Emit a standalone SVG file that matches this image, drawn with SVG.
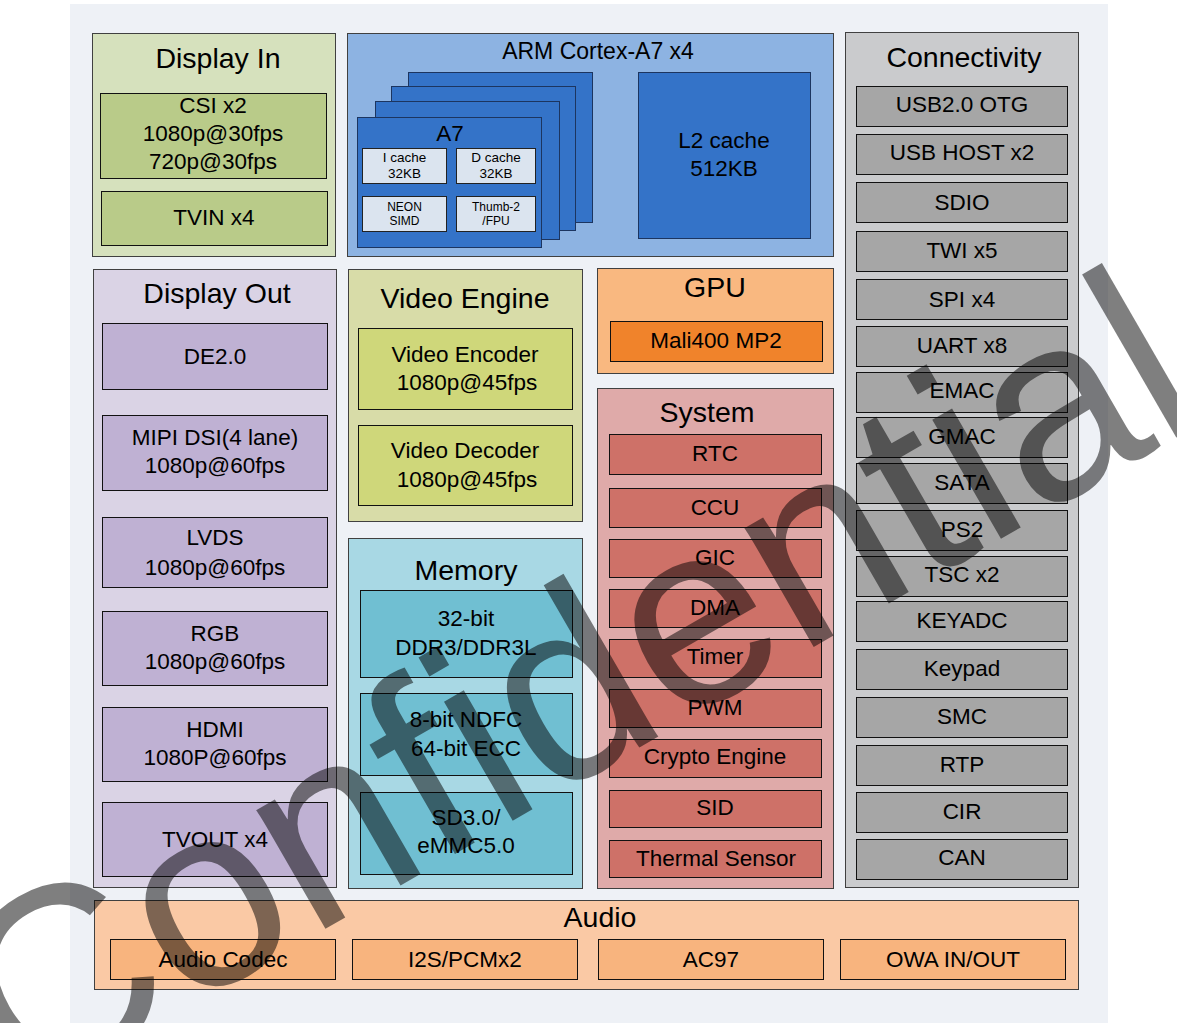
<svg xmlns="http://www.w3.org/2000/svg" width="1177" height="1023" viewBox="0 0 1177 1023">
<style>
text{font-family:"Liberation Sans",Arial,sans-serif;fill:#000;text-anchor:middle}
.t{font-size:28.5px}
.s{font-size:22.5px}
.a{font-size:23px}
.xs{font-size:13.5px}
.xxs{font-size:12px}
.o{stroke:#404040;stroke-width:1}
.i{stroke:#111;stroke-width:1}
.din{fill:#d6e1bd}.dini{fill:#b9cb89}
.arm{fill:#8db3e2}.card{fill:#3473c8;stroke:#1c3560;stroke-width:1}.sub{fill:#dbe4ef;stroke:#222;stroke-width:1}
.dout{fill:#dad3e5}.douti{fill:#bfb1d3}
.ve{fill:#d8dca8}.vei{fill:#cfd77a}
.mem{fill:#a8d8e4}.memi{fill:#70bfd2}
.gpu{fill:#f9b880}.gpui{fill:#f0832b}
.sys{fill:#dfaaa9}.sysi{fill:#ce7168}
.con{fill:#cacbcd}.coni{fill:#a6a6a6}
.aud{fill:#fac9a5}.audi{fill:#f8b47e}
.wm{font-family:"Liberation Sans",Arial,sans-serif;font-size:260px;fill:#000;fill-opacity:0.5;text-anchor:start}
</style>
<rect x="0" y="0" width="1177" height="1023" fill="#ffffff"/>
<rect x="70" y="4" width="1038" height="1019" fill="#eef1f6"/>

<g id="display-in">
<rect class="din o" x="92.5" y="33.5" width="243" height="223"/>
<text class="t" x="218" y="68">Display In</text>
<rect class="dini i" x="100.5" y="93.5" width="226" height="85"/>
<text class="s" x="213" y="113">CSI x2</text>
<text class="s" x="213" y="141">1080p@30fps</text>
<text class="s" x="213" y="169">720p@30fps</text>
<rect class="dini i" x="101.5" y="191.5" width="226" height="54"/>
<text class="s" x="214" y="225">TVIN x4</text>
</g>

<g id="arm">
<rect class="arm o" x="347.5" y="33.5" width="486" height="223"/>
<text class="a" x="598" y="59">ARM Cortex-A7 x4</text>
<rect class="card" x="408.5" y="72.5" width="184" height="150"/>
<rect class="card" x="391.5" y="86.5" width="184" height="144"/>
<rect class="card" x="375.5" y="101.5" width="184" height="138"/>
<rect class="card" x="357.5" y="117.5" width="184" height="130"/>
<text class="s" x="450" y="141">A7</text>
<rect class="sub" x="362.5" y="148.5" width="84" height="35"/>
<text class="xs" x="404.5" y="162">I cache</text>
<text class="xs" x="404.5" y="178">32KB</text>
<rect class="sub" x="456.5" y="148.5" width="79" height="35"/>
<text class="xs" x="496" y="162">D cache</text>
<text class="xs" x="496" y="178">32KB</text>
<rect class="sub" x="362.5" y="196.5" width="84" height="35"/>
<text class="xxs" x="404.5" y="211">NEON</text>
<text class="xxs" x="404.5" y="225">SIMD</text>
<rect class="sub" x="456.5" y="196.5" width="79" height="35"/>
<text class="xxs" x="496" y="211">Thumb-2</text>
<text class="xxs" x="496" y="225">/FPU</text>
<rect class="card" x="638.5" y="72.5" width="172" height="166"/>
<text class="s" x="724" y="148">L2 cache</text>
<text class="s" x="724" y="176">512KB</text>
</g>

<g id="display-out">
<rect class="dout o" x="93.5" y="269.5" width="243" height="618"/>
<text class="t" x="217" y="303">Display Out</text>
<rect class="douti i" x="102.5" y="323.5" width="225" height="66"/>
<text class="s" x="215" y="364">DE2.0</text>
<rect class="douti i" x="102.5" y="415.5" width="225" height="75"/>
<text class="s" x="215" y="445">MIPI DSI(4 lane)</text>
<text class="s" x="215" y="473">1080p@60fps</text>
<rect class="douti i" x="102.5" y="517.5" width="225" height="70"/>
<text class="s" x="215" y="545">LVDS</text>
<text class="s" x="215" y="575">1080p@60fps</text>
<rect class="douti i" x="102.5" y="611.5" width="225" height="74"/>
<text class="s" x="215" y="641">RGB</text>
<text class="s" x="215" y="669">1080p@60fps</text>
<rect class="douti i" x="102.5" y="707.5" width="225" height="74"/>
<text class="s" x="215" y="737">HDMI</text>
<text class="s" x="215" y="765">1080P@60fps</text>
<rect class="douti i" x="102.5" y="802.5" width="225" height="74"/>
<text class="s" x="215" y="847">TVOUT x4</text>
</g>

<g id="video-engine">
<rect class="ve o" x="348.5" y="269.5" width="234" height="252"/>
<text class="t" x="465" y="308">Video Engine</text>
<rect class="vei i" x="358.5" y="328.5" width="214" height="81"/>
<text class="s" x="465" y="362">Video Encoder</text>
<text class="s" x="467" y="390">1080p@45fps</text>
<rect class="vei i" x="358.5" y="425.5" width="214" height="80"/>
<text class="s" x="465" y="458">Video Decoder</text>
<text class="s" x="467" y="487">1080p@45fps</text>
</g>

<g id="memory">
<rect class="mem o" x="348.5" y="538.5" width="234" height="350"/>
<text class="t" x="466" y="580">Memory</text>
<rect class="memi i" x="360.5" y="590.5" width="212" height="87"/>
<text class="s" x="466" y="626">32-bit</text>
<text class="s" x="466" y="655">DDR3/DDR3L</text>
<rect class="memi i" x="360.5" y="693.5" width="212" height="82"/>
<text class="s" x="466" y="727">8-bit NDFC</text>
<text class="s" x="466" y="756">64-bit ECC</text>
<rect class="memi i" x="360.5" y="792.5" width="212" height="82"/>
<text class="s" x="466" y="825">SD3.0/</text>
<text class="s" x="466" y="853">eMMC5.0</text>
</g>

<g id="gpu">
<rect class="gpu o" x="597.5" y="268.5" width="236" height="105"/>
<text class="t" x="715" y="297">GPU</text>
<rect class="gpui i" x="610.5" y="321.5" width="212" height="40"/>
<text class="s" x="716" y="348">Mali400 MP2</text>
</g>

<g id="system">
<rect class="sys o" x="597.5" y="388.5" width="236" height="500"/>
<text class="t" x="707" y="422">System</text>
<rect class="sysi i" x="609.5" y="434.5" width="212" height="40"/>
<text class="s" x="715" y="461">RTC</text>
<rect class="sysi i" x="609.5" y="488.5" width="212" height="39"/>
<text class="s" x="715" y="515">CCU</text>
<rect class="sysi i" x="609.5" y="539.5" width="212" height="38"/>
<text class="s" x="715" y="565">GIC</text>
<rect class="sysi i" x="609.5" y="589.5" width="212" height="38"/>
<text class="s" x="715" y="615">DMA</text>
<rect class="sysi i" x="609.5" y="639.5" width="212" height="38"/>
<text class="s" x="715" y="664">Timer</text>
<rect class="sysi i" x="609.5" y="689.5" width="212" height="38"/>
<text class="s" x="715" y="715">PWM</text>
<rect class="sysi i" x="609.5" y="739.5" width="212" height="38"/>
<text class="s" x="715" y="764">Crypto Engine</text>
<rect class="sysi i" x="609.5" y="790.5" width="212" height="37"/>
<text class="s" x="715" y="815">SID</text>
<rect class="sysi i" x="609.5" y="840.5" width="212" height="37"/>
<text class="s" x="716" y="866">Thermal Sensor</text>
</g>

<g id="connectivity">
<rect class="con o" x="845.5" y="32.5" width="233" height="855"/>
<text class="t" x="964" y="67">Connectivity</text>
<rect class="coni i" x="856.5" y="86.5" width="211" height="40"/>
<text class="s" x="962" y="112">USB2.0 OTG</text>
<rect class="coni i" x="856.5" y="134.5" width="211" height="40"/>
<text class="s" x="962" y="160">USB HOST x2</text>
<rect class="coni i" x="856.5" y="182.5" width="211" height="40"/>
<text class="s" x="962" y="210">SDIO</text>
<rect class="coni i" x="856.5" y="231.5" width="211" height="40"/>
<text class="s" x="962" y="258">TWI x5</text>
<rect class="coni i" x="856.5" y="279.5" width="211" height="40"/>
<text class="s" x="962" y="307">SPI x4</text>
<rect class="coni i" x="856.5" y="326.5" width="211" height="40"/>
<text class="s" x="962" y="353">UART x8</text>
<rect class="coni i" x="856.5" y="372.5" width="211" height="40"/>
<text class="s" x="962" y="398">EMAC</text>
<rect class="coni i" x="856.5" y="417.5" width="211" height="40"/>
<text class="s" x="962" y="444">GMAC</text>
<rect class="coni i" x="856.5" y="463.5" width="211" height="40"/>
<text class="s" x="962" y="490">SATA</text>
<rect class="coni i" x="856.5" y="510.5" width="211" height="40"/>
<text class="s" x="962" y="537">PS2</text>
<rect class="coni i" x="856.5" y="556.5" width="211" height="40"/>
<text class="s" x="962" y="582">TSC x2</text>
<rect class="coni i" x="856.5" y="601.5" width="211" height="40"/>
<text class="s" x="962" y="628">KEYADC</text>
<rect class="coni i" x="856.5" y="649.5" width="211" height="40"/>
<text class="s" x="962" y="676">Keypad</text>
<rect class="coni i" x="856.5" y="697.5" width="211" height="40"/>
<text class="s" x="962" y="724">SMC</text>
<rect class="coni i" x="856.5" y="745.5" width="211" height="40"/>
<text class="s" x="962" y="772">RTP</text>
<rect class="coni i" x="856.5" y="792.5" width="211" height="40"/>
<text class="s" x="962" y="819">CIR</text>
<rect class="coni i" x="856.5" y="839.5" width="211" height="40"/>
<text class="s" x="962" y="865">CAN</text>
</g>

<g id="audio">
<rect class="aud o" x="94.5" y="900.5" width="984" height="89"/>
<text class="t" x="600" y="927">Audio</text>
<rect class="audi i" x="110.5" y="939.5" width="225" height="40"/>
<text class="s" x="223" y="967">Audio Codec</text>
<rect class="audi i" x="352.5" y="939.5" width="225" height="40"/>
<text class="s" x="465" y="967">I2S/PCMx2</text>
<rect class="audi i" x="598.5" y="939.5" width="225" height="40"/>
<text class="s" x="711" y="967">AC97</text>
<rect class="audi i" x="840.5" y="939.5" width="225" height="40"/>
<text class="s" x="953" y="967">OWA IN/OUT</text>
</g>

<g id="connectors"></g>

<text class="wm" transform="translate(22,1104) rotate(-30)">Confidential</text>
</svg>
